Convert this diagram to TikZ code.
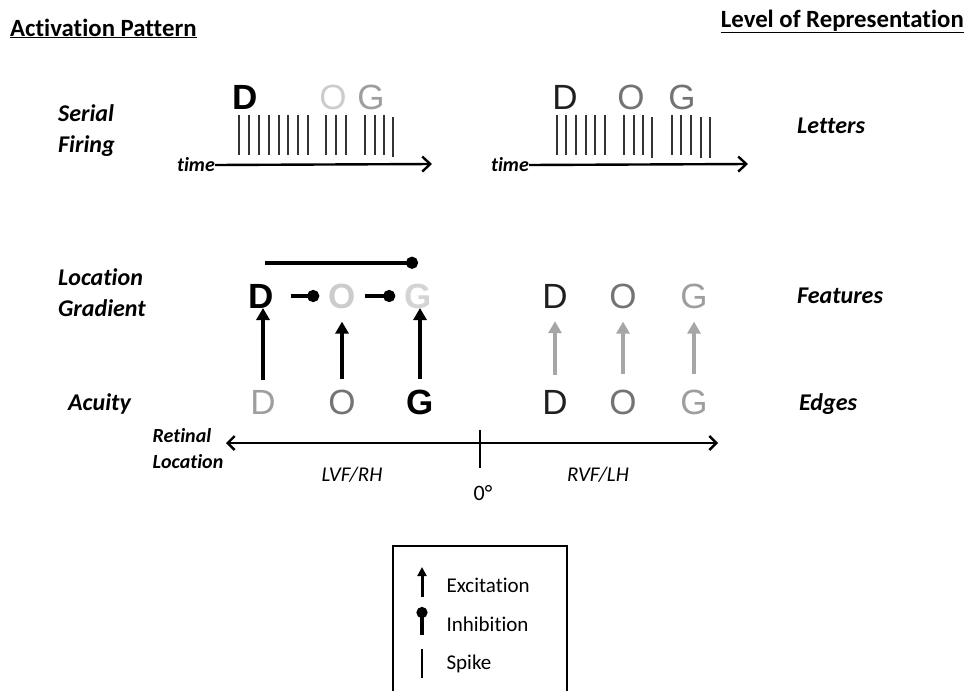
\documentclass[tikz,border=0pt]{standalone}
\usepackage{fontspec}
\setmainfont{Carlito}[Ligatures=NoCommon]
\newfontfamily\letterfont{Liberation Sans}
\usetikzlibrary{arrows.meta}

\definecolor{faint}{gray}{0.80}
\definecolor{light}{gray}{0.62}
\definecolor{mid}{gray}{0.45}
\definecolor{dark}{gray}{0.12}

\begin{document}
\begin{tikzpicture}[x=1pt,y=-1pt,
		head/.style = {font=\bfseries\fontsize{24.8}{28}\selectfont, inner sep = 0pt},
		level/.style = {font=\bfseries\itshape\fontsize{24}{31}\selectfont, align=left, anchor=west, inner sep = 0pt},
		small/.style = {font=\bfseries\itshape\fontsize{20}{26}\selectfont, align=left, inner sep = 0pt},
		letter/.style = {font=\letterfont\fontsize{35}{35}\selectfont, inner sep = 1pt},
		boldletter/.style = {letter, font=\letterfont\bfseries\fontsize{35}{35}\selectfont},
		spike/.style = {line width = 1.8pt, draw = black!80},
		timeline/.style = {line width = 2.4pt, -{Straight Barb[length=8pt,width=15pt,line width=2.4pt]}},
		excite/.style = {line width = 4pt, -{Triangle[length=12pt,width=13pt]}},
		inhib/.style = {line width = 4.5pt, -{Circle[length=12pt]}}]

		\useasboundingbox (0,0) rectangle (969,691);

		% headings
		\node[head,anchor=base west] (act) at (10,36) {\underline{Activation Pattern}};
		\node[head,anchor=base east] (rep) at (964,27) {\underline{Level of Representation}};

		\node[level] (serial) at (58,131) {Serial\\Firing};
		\node[level] (grad) at (58,293) {Location\\Gradient};
		\node[level] (acuity) at (68,404) {Acuity};
		\node[level] (letters) at (797,126) {Letters};
		\node[level] (features) at (797,296) {Features};
		\node[level] (edges) at (799,404) {Edges};

		% serial firing, left
		\node[boldletter] (sD1) at (245,97) {D};
		\node[letter,text=faint] (sO1) at (333,97) {O};
		\node[letter,text=light] (sG1) at (371,97) {G};
		\foreach \x in {239.3,249,259,268.7,278.7,288.3,298,307.7,326.3,336,345.7,365,374.7,384}
			\draw[spike] (\x,115) -- (\x,155);
		\draw[spike] (393.3,117) -- (393.3,157);
		\node[small] (time1) at (196,165) {time};
		\coordinate (tend1) at (432,164);
		\draw[timeline] (time1.east) -- (tend1);

		% serial firing, right
		\node[letter,text=dark] (sD2) at (565,97) {D};
		\node[letter,text=mid] (sO2) at (631,97) {O};
		\node[letter,text=mid] (sG2) at (682,97) {G};
		\foreach \x in {557,566.3,576,585.7,595.3,605,624,633.7,643,671.7,681.3,691}
			\draw[spike] (\x,115) -- (\x,155);
		\foreach \x in {652.3,700.7,710.3}
			\draw[spike] (\x,117) -- (\x,158);
		\node[small] (time2) at (510,165) {time};
		\coordinate (tend2) at (748,164);
		\draw[timeline] (time2.east) -- (tend2);

		% location gradient
		\node[boldletter] (fD1) at (261,296) {D};
		\node[boldletter,text=faint] (fO1) at (342,296) {O};
		\node[boldletter,text=faint!85] (fG1) at (418,296) {G};
		\node[letter,text=dark] (fD2) at (555,296) {D};
		\node[letter,text=mid] (fO2) at (623,296) {O};
		\node[letter,text=light] (fG2) at (694,296) {G};

		\draw[inhib] ([xshift=16pt]fD1.east) -- ([xshift=-8pt]fO1.west);
		\draw[inhib] ([xshift=8pt]fO1.east) -- ([xshift=-8pt]fG1.west);
		\draw[inhib] ([xshift=4pt,yshift=20pt]fD1.north) -- ([yshift=20pt]fD1.north -| fG1);

		% acuity
		\node[letter,text=light] (eD1) at (263,402) {D};
		\node[letter,text=mid] (eO1) at (342,402) {O};
		\node[boldletter] (eG1) at (420,402) {G};
		\node[letter,text=dark] (eD2) at (555,402) {D};
		\node[letter,text=mid] (eO2) at (623,402) {O};
		\node[letter,text=light] (eG2) at (694,402) {G};

		\draw[excite,shorten <=9pt,shorten >=12pt] (eD1) -- (eD1 |- fD1);
		\draw[excite,shorten <=9pt,shorten >=12pt] (eO1) -- (fO1);
		\draw[excite,shorten <=9pt,shorten >=12pt] (eG1) -- (eG1 |- fG1);
		\foreach \n in {D2,O2,G2}
			\draw[excite,draw=black!35,fill=black!35,shorten <=14pt,shorten >=12pt] (e\n) -- (f\n);

		% retinal location axis
		\node[small] (retinal) at (188,449) {Retinal\\Location};
		\coordinate (axL) at (226,443);
		\coordinate (axR) at (718,443);
		\coordinate (tickT) at (480,430);
		\coordinate (tickB) at (480,468);
		\draw[line width=2.4pt,{Straight Barb[length=7pt,width=14pt,line width=2.4pt]}-{Straight Barb[length=7pt,width=14pt,line width=2.4pt]}] (axL) -- (axR);
		\draw[line width=1.2pt] (tickT) -- (tickB);
		\node[font=\itshape\fontsize{21}{24}\selectfont] (lvf) at (352,475) {LVF/RH};
		\node[font=\itshape\fontsize{21}{24}\selectfont] (rvf) at (598,475) {RVF/LH};
		\node[font=\fontsize{22}{24}\selectfont] (zero) at (483,493) {0°};

		% legend
		\coordinate (bxBL) at (393,691);
		\coordinate (bxTR) at (567,546);
		\draw[line width=1.2pt] (bxBL) |- (bxTR) -- (bxTR |- bxBL);
		\coordinate (exB) at (422,597);
		\coordinate (exT) at (422,567);
		\coordinate (inB) at (422,635);
		\coordinate (inT) at (422,607);
		\coordinate (spB) at (422,678);
		\coordinate (spT) at (422,649);
		\draw[line width=3pt,-{Triangle[length=9pt,width=9pt]}] (exB) -- (exT);
		\draw[line width=3.5pt,-{Circle[length=11pt]}] (inB) -- (inT);
		\draw[line width=1.3pt] (spB) -- (spT);
		\node[anchor=west,font=\fontsize{21}{24}\selectfont] (exc) at (443,585) {Excitation};
		\node[anchor=west,font=\fontsize{21}{24}\selectfont] (inh) at (443,624) {Inhibition};
		\node[anchor=west,font=\fontsize{21}{24}\selectfont] (spk) at (443,664) {Spike};
\end{tikzpicture}
\end{document}
